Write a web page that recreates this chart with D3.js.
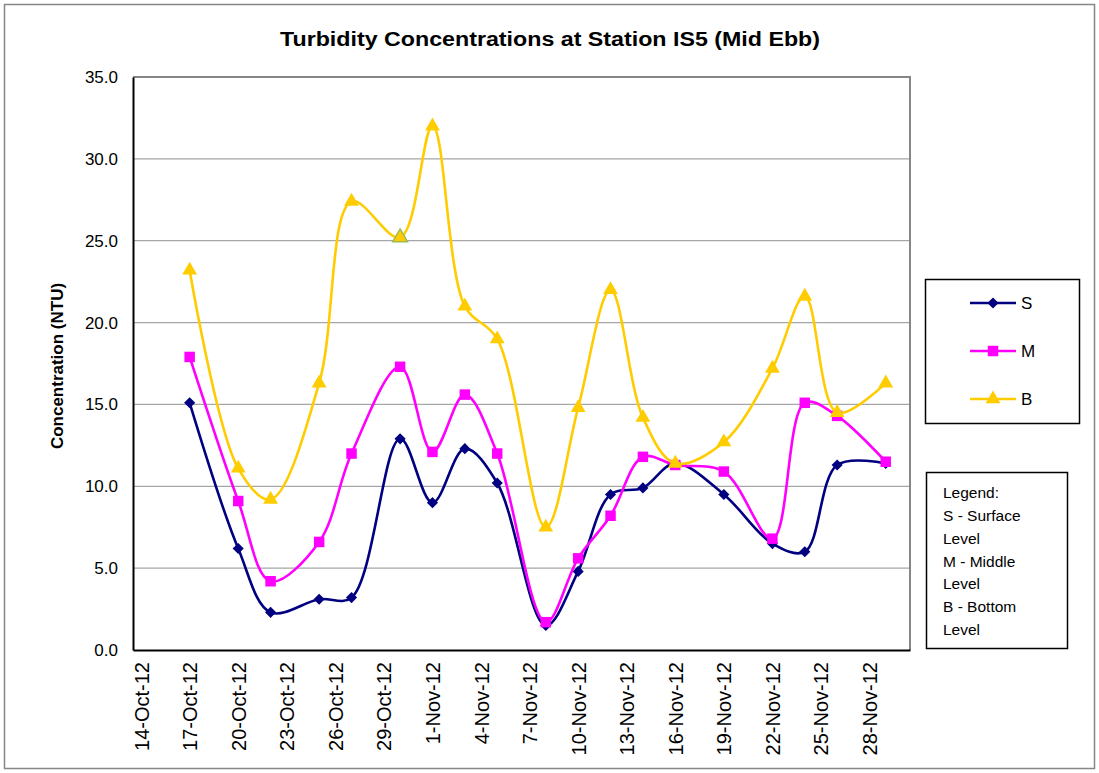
<!DOCTYPE html>
<html>
<head>
<meta charset="utf-8">
<script src="https://cdn.jsdelivr.net/npm/d3@7"></script>
<style>
  body { margin: 0; background: #fff; }
  svg { display: block; }
  text { font-family: "Liberation Sans", Arial, sans-serif; }
</style>
</head>
<body>
<div id="chart"></div>
<script>
// Sampling dates (mid ebb) and turbidity readings, NTU
const dates = ['2012-10-17', '2012-10-20', '2012-10-22', '2012-10-25', '2012-10-27', '2012-10-30',
    '2012-11-01', '2012-11-03', '2012-11-05', '2012-11-08', '2012-11-10', '2012-11-12',
    '2012-11-14', '2012-11-16', '2012-11-19', '2012-11-22', '2012-11-24', '2012-11-26', '2012-11-29'];
const surface = [15.1, 6.2, 2.3, 3.1, 3.2, 12.9, 9.0, 12.3, 10.2, 1.5, 4.8, 9.5, 9.9, 11.4, 9.5, 6.5, 6.0, 11.3, 11.4];
const middle  = [17.9, 9.1, 4.2, 6.6, 12.0, 17.3, 12.1, 15.6, 12.0, 1.7, 5.6, 8.2, 11.8, 11.3, 10.9, 6.8, 15.1, 14.3, 11.5];
const bottom  = [23.2, 11.1, 9.2, 16.3, 27.4, 25.2, 32.0, 21.0, 19.0, 7.5, 14.8, 22.0, 14.2, 11.4, 12.7, 17.2, 21.6, 14.5, 16.3];

const tickDates = ['2012-10-14', '2012-10-17', '2012-10-20', '2012-10-23', '2012-10-26', '2012-10-29',
    '2012-11-01', '2012-11-04', '2012-11-07', '2012-11-10', '2012-11-13', '2012-11-16',
    '2012-11-19', '2012-11-22', '2012-11-25', '2012-11-28'];
const yTicks = [0, 5, 10, 15, 20, 25, 30, 35];
const noteLines = ['Legend:', 'S - Surface', 'Level', 'M - Middle', 'Level', 'B - Bottom', 'Level'];

// diamond = square turned 45deg (d3's own diamond is too tall)
const series = [
    { key: 'S', values: surface, color: '#000080', symbol: d3.symbolSquare, size: 62, rotate: 45 },
    { key: 'M', values: middle, color: '#FF00FF', symbol: d3.symbolSquare, size: 110, rotate: 0 },
    { key: 'B', values: bottom, color: '#FFCC00', symbol: d3.symbolTriangle, size: 95, rotate: 0 }
];

const W = 1099, H = 773;
const plot = { left: 133, top: 77, right: 910, bottom: 650 };

const parse = d3.timeParse('%Y-%m-%d');
// each day is a band; points sit in the middle of their day
const mid = s => d3.timeHour.offset(parse(s), 12);

const svg = d3.select('#chart').append('svg')
    .attr('width', W)
    .attr('height', H);

// outer chart border
svg.append('rect')
    .attr('x', 4.5).attr('y', 4.5)
    .attr('width', W - 9).attr('height', H - 9)
    .attr('fill', '#fff')
    .attr('stroke', '#868686')
    .attr('stroke-width', 1.5);

const x = d3.scaleTime()
    .domain([parse('2012-10-14'), parse('2012-12-01')])
    .range([plot.left, plot.right]);

const y = d3.scaleLinear()
    .domain([0, 35])
    .range([plot.bottom, plot.top]);

// gridlines
svg.append('g')
    .selectAll('line')
    .data(yTicks.slice(1, -1))
    .enter()
    .append('line')
    .attr('x1', plot.left).attr('x2', plot.right)
    .attr('y1', d => y(d)).attr('y2', d => y(d))
    .attr('stroke', '#A6A6A6')
    .attr('stroke-width', 1.2);

// plot frame (top/right grey)
svg.append('path')
    .attr('d', `M${plot.left},${plot.top}H${plot.right}V${plot.bottom}`)
    .attr('fill', 'none')
    .attr('stroke', '#868686')
    .attr('stroke-width', 2);

// y axis
const yAxis = svg.append('g')
    .attr('transform', `translate(${plot.left},0)`)
    .call(d3.axisLeft(y).tickValues(yTicks).tickSize(0).tickPadding(15).tickFormat(d3.format('.1f')));
yAxis.select('.domain').attr('stroke', '#000').attr('stroke-width', 2);
yAxis.selectAll('text')
    .attr('font-family', '"Liberation Sans", Arial, sans-serif')
    .attr('font-size', '17px')
    .attr('fill', '#000');

// x axis
const xAxis = svg.append('g')
    .attr('transform', `translate(0,${plot.bottom})`)
    .call(d3.axisBottom(x).tickValues(tickDates.map(mid)).tickSize(0).tickFormat(d3.timeFormat('%-d-%b-%y')));
xAxis.select('.domain').attr('stroke', '#000').attr('stroke-width', 2);
xAxis.selectAll('text')
    .attr('font-family', '"Liberation Sans", Arial, sans-serif')
    .attr('font-size', '20px')
    .attr('fill', '#000')
    .attr('text-anchor', 'end')
    .attr('transform', 'rotate(-90)')
    .attr('x', -12)
    .attr('y', 0)
    .attr('dy', '0.35em');

// title
svg.append('text')
    .attr('x', 550)
    .attr('y', 46)
    .attr('text-anchor', 'middle')
    .attr('font-size', '20px')
    .attr('font-weight', 'bold')
    .attr('textLength', 540)
    .attr('lengthAdjust', 'spacingAndGlyphs')
    .text('Turbidity Concentrations at Station IS5 (Mid Ebb)');

// y axis title
svg.append('text')
    .attr('transform', 'translate(63,366) rotate(-90)')
    .attr('text-anchor', 'middle')
    .attr('font-size', '17px')
    .attr('font-weight', 'bold')
    .text('Concentration (NTU)');

// smoothed lines
const line = d3.line()
    .x(d => x(d.date))
    .y(d => y(d.value))
    .curve(d3.curveCatmullRom.alpha(0.5));

series.forEach(s => {
    const pts = dates.map((dt, i) => ({ date: mid(dt), value: s.values[i] }));
    const g = svg.append('g').attr('class', 'series-' + s.key);

    g.append('path')
        .datum(pts)
        .attr('d', line)
        .attr('fill', 'none')
        .attr('stroke', s.color)
        .attr('stroke-width', 2.6);

    g.selectAll('.marker')
        .data(pts)
        .enter()
        .append('path')
        .attr('class', 'marker')
        .attr('transform', d => `translate(${x(d.date)},${y(d.value)}) rotate(${s.rotate})`)
        .attr('d', d3.symbol().type(s.symbol).size(s.size))
        .attr('fill', s.color)
        // one bottom reading (30-Oct) carries an olive outline in the original
        .attr('stroke', d => s.key === 'B' && d.value === 25.2 ? '#9BBB59' : 'none')
        .attr('stroke-width', 1.5);
});

// series legend
const legend = svg.append('g');
legend.append('rect')
    .attr('x', 925.5).attr('y', 279.5)
    .attr('width', 154).attr('height', 144)
    .attr('fill', '#fff')
    .attr('stroke', '#000')
    .attr('stroke-width', 1.5);

series.forEach((s, i) => {
    const ly = 303 + i * 48;
    legend.append('line')
        .attr('x1', 970).attr('x2', 1016)
        .attr('y1', ly).attr('y2', ly)
        .attr('stroke', s.color)
        .attr('stroke-width', 2.6);
    legend.append('path')
        .attr('transform', `translate(993,${ly}) rotate(${s.rotate})`)
        .attr('d', d3.symbol().type(s.symbol).size(s.size))
        .attr('fill', s.color);
    legend.append('text')
        .attr('x', 1021)
        .attr('y', ly)
        .attr('dy', '0.36em')
        .attr('font-size', '17px')
        .text(s.key);
});

// note box
const note = svg.append('g');
note.append('rect')
    .attr('x', 926.5).attr('y', 472.5)
    .attr('width', 141).attr('height', 176)
    .attr('fill', '#fff')
    .attr('stroke', '#000')
    .attr('stroke-width', 1.5);

note.selectAll('text')
    .data(noteLines)
    .enter()
    .append('text')
    .attr('x', 943)
    .attr('y', (d, i) => 493 + i * 22.7)
    .attr('dy', '0.35em')
    .attr('font-family', 'Lato, "Noto Sans", sans-serif')
    .attr('font-size', '15.5px')
    .text(d => d);
</script>
</body>
</html>
